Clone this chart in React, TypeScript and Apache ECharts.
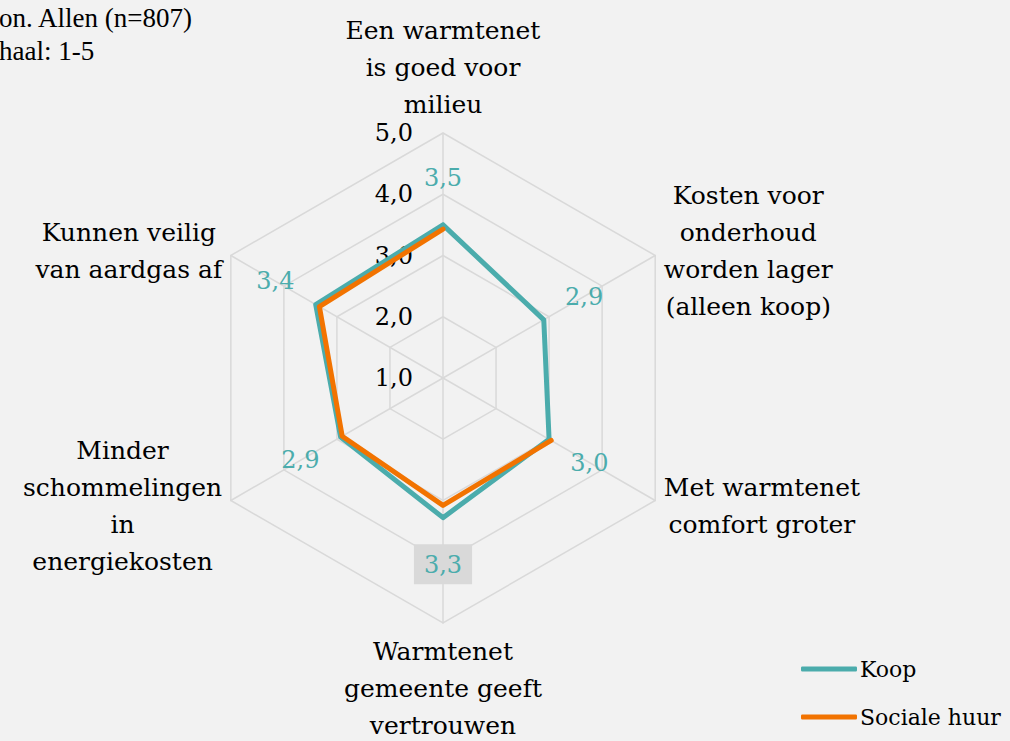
import React, { useEffect, useRef } from 'react';
import * as echarts from 'echarts';

// Statements, clockwise from the top
const statements = [
  'Een warmtenet\nis goed voor\nmilieu',
  'Kosten voor\nonderhoud\nworden lager\n(alleen koop)',
  'Met warmtenet\ncomfort groter',
  'Warmtenet\ngemeente geeft\nvertrouwen',
  'Minder\nschommelingen\nin\nenergiekosten',
  'Kunnen veilig\nvan aardgas af',
];
const koop = [3.5, 2.9, 3.0, 3.28, 2.93, 3.4];
const socialeHuur: (number | null)[] = [3.43, null, 3.04, 3.08, 2.9, 3.33];
const seriesNames = ['Koop', 'Sociale huur'];
const scaleMin = 1;
const scaleMax = 5;
const highlightedLabelIndex = 3;
const sourceNote = ['Bron. Allen (n=807)', 'Schaal: 1-5'];

const TEAL = '#4BACAC';
const ORANGE = '#F27300';
const GRID = '#D9D9D9';
const FONT = 'DejaVu Serif';
const CENTER = [443, 378];
const RADIUS = 245;
const LABEL_OFFSET = 0.76;

const fmt = (v: number) => v.toFixed(1).replace('.', ',');

function loop(values: (number | null)[]) {
  const n = values.length;
  const out: any[] = [];
  for (let i = 0; i <= n; i++) {
    const v = values[i % n];
    out.push([v == null ? '-' : v, (i * 360) / n]);
  }
  return out;
}

export default function App() {
  const ref = useRef<HTMLDivElement>(null);
  useEffect(() => {
    if (!ref.current) return;
    const chart = echarts.init(ref.current, undefined, { renderer: 'svg' });
    const n = statements.length;
    // radar places indicators counter-clockwise
    const ccw = statements.map((_, i) => (n - i) % n);
    const indicator = ccw.map((idx, k) => ({
      name: statements[idx],
      min: scaleMin,
      max: scaleMax,
      ...(k === 0
        ? {
            axisLabel: {
              show: true,
              color: '#000',
              fontSize: 24,
              fontFamily: FONT,
              margin: 30,
              formatter: (v: number) => fmt(v),
            },
          }
        : { axisLabel: { show: false } }),
    }));

    chart.setOption({
      animation: false,
      backgroundColor: '#F2F2F2',
      textStyle: { fontFamily: FONT },
      graphic: [
        {
          type: 'text',
          left: -28,
          top: 1,
          style: {
            text: sourceNote.join('\n'),
            fontSize: 27,
            fontFamily: 'Liberation Serif',
            lineHeight: 33,
            fill: '#000',
          },
        },
      ],
      legend: {
        data: seriesNames,
        orient: 'vertical',
        left: 801,
        top: 658,
        itemWidth: 56,
        itemHeight: 5,
        itemGap: 26,
        icon: 'roundRect',
        padding: 0,
        textStyle: { fontSize: 22, fontFamily: FONT, color: '#000', padding: [0, 0, 0, -2] },
      },
      radar: {
        center: CENTER,
        radius: RADIUS,
        startAngle: 90,
        splitNumber: scaleMax - scaleMin,
        shape: 'polygon',
        indicator,
        nameGap: 10,
        axisName: {
          color: '#000',
          fontSize: 25,
          fontFamily: FONT,
          formatter: (name: string) =>
            name
              .split('\n')
              .map((l) => '{c|' + l + '}')
              .join('\n'),
          rich: {
            c: { align: 'center', fontSize: 25, fontFamily: FONT, color: '#000', lineHeight: 37 },
          },
        },
        axisLine: { lineStyle: { color: GRID, width: 1.5 } },
        splitLine: { lineStyle: { color: GRID, width: 1.5 } },
        splitArea: { show: false },
        axisTick: { show: false },
        axisLabel: { show: false },
      },
      polar: { center: CENTER, radius: RADIUS },
      angleAxis: {
        type: 'value',
        min: 0,
        max: 360,
        startAngle: 90,
        clockwise: true,
        show: false,
        axisLine: { show: false },
        axisTick: { show: false },
        axisLabel: { show: false },
        splitLine: { show: false },
      },
      radiusAxis: {
        type: 'value',
        min: scaleMin,
        max: scaleMax,
        show: false,
        axisLine: { show: false },
        axisTick: { show: false },
        axisLabel: { show: false },
        splitLine: { show: false },
      },
      series: [
        {
          name: seriesNames[0],
          type: 'line',
          coordinateSystem: 'polar',
          data: loop(koop),
          showSymbol: false,
          color: TEAL,
          lineStyle: { color: TEAL, width: 5, cap: 'round', join: 'round' },
          z: 3,
        },
        {
          name: seriesNames[1],
          type: 'line',
          coordinateSystem: 'polar',
          data: loop(socialeHuur),
          showSymbol: false,
          connectNulls: false,
          color: ORANGE,
          lineStyle: { color: ORANGE, width: 5, cap: 'round', join: 'round' },
          z: 4,
        },
        {
          name: 'Koop labels',
          type: 'line',
          coordinateSystem: 'polar',
          data: koop.map((v, i) => [v + LABEL_OFFSET, (i * 360) / n]),
          symbol: 'circle',
          symbolSize: 1,
          itemStyle: { color: 'rgba(0,0,0,0)' },
          lineStyle: { width: 0, opacity: 0 },
          z: 5,
          label: {
            show: true,
            position: 'inside',
            formatter: (p: any) =>
              p.dataIndex === highlightedLabelIndex
                ? '{hl|' + fmt(koop[p.dataIndex]) + '}'
                : '{n|' + fmt(koop[p.dataIndex]) + '}',
            rich: {
              n: { color: TEAL, fontSize: 24, fontFamily: FONT },
              hl: {
                color: TEAL,
                fontSize: 24,
                fontFamily: FONT,
                backgroundColor: GRID,
                padding: [9, 10, 7, 10],
              },
            },
          },
        },
      ],
    });
    return () => chart.dispose();
  }, []);
  return (
    <div
      ref={ref}
      style={{ position: 'fixed', left: 0, top: 0, width: 1010, height: 741 }}
    />
  );
}
